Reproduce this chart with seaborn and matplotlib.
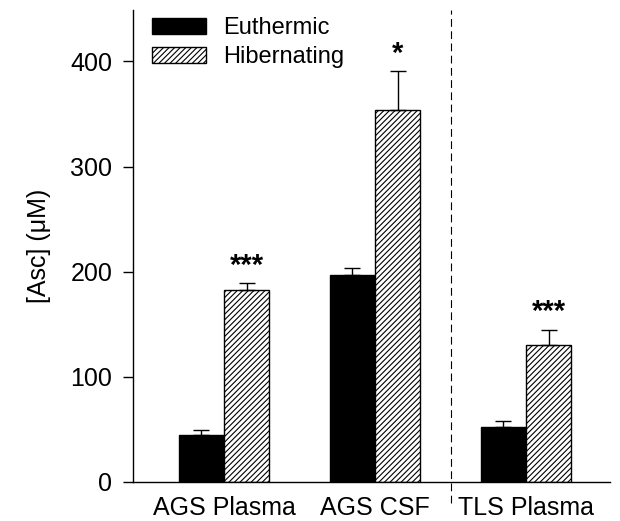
import matplotlib
matplotlib.use("Agg")
import matplotlib.pyplot as plt
import seaborn as sns
import pandas as pd
import numpy as np

categories = ["AGS Plasma", "AGS CSF", "TLS Plasma"]
groups = ["Euthermic", "Hibernating"]
euthermic = [45, 197, 52]
hibernating = [183, 354, 130]
euthermic_err = [4, 7, 6]
hibernating_err = [6, 37, 15]
hib_marks = ["***", "*", "***"]
yticks = [0, 100, 200, 300, 400]

sns.set_theme(style="white")
plt.rcParams["font.family"] = ["Liberation Sans", "DejaVu Sans"]
plt.rcParams["hatch.linewidth"] = 0.8
plt.rcParams["text.color"] = "black"
plt.rcParams["axes.labelcolor"] = "black"
plt.rcParams["xtick.color"] = "black"
plt.rcParams["ytick.color"] = "black"

df = pd.DataFrame({
    "cat": categories * 2,
    "group": [groups[0]] * 3 + [groups[1]] * 3,
    "val": euthermic + hibernating,
})

fig = plt.figure(figsize=(6.2, 5.21), dpi=100)
ax = fig.add_axes([0.2145, 0.0749, 0.7695, 0.906])
sns.barplot(data=df, x="cat", y="val", hue="group", order=categories,
            hue_order=groups, palette=["black", "white"], width=0.6,
            errorbar=None, ax=ax, edgecolor="black", linewidth=1.0,
            saturation=1)

errs = [euthermic_err, hibernating_err]
vals = [euthermic, hibernating]
bar_conts = list(ax.containers)
for ci, cont in enumerate(bar_conts):
    xs = [p.get_x() + p.get_width() / 2 for p in cont.patches]
    if ci == 1:
        for p in cont.patches:
            p.set_hatch("//////")
            p.set_facecolor("white")
    ax.errorbar(xs, vals[ci], yerr=[np.zeros(3), errs[ci]], fmt="none",
                ecolor="black", elinewidth=1.0, capsize=6, capthick=1.0,
                zorder=1)
    if ci == 1:
        for x, v, e, m in zip(xs, vals[ci], errs[ci], hib_marks):
            ax.text(x, v + e + 3, m, ha="center", va="bottom", fontsize=21,
                    fontweight="bold", color="black")

ax.set_ylim(0, 449)
ax.set_xlim(-0.603, 2.556)
ax.set_yticks(yticks)
ax.set_yticklabels([str(t) for t in yticks], fontsize=18)
ax.tick_params(axis="y", left=True, length=7, width=1, pad=8, colors="black")
ax.tick_params(axis="x", bottom=False, length=0, pad=10, labelsize=18)
ax.set_xlabel("")
ax.set_ylabel("[Asc] (\u03bcM)", fontsize=18, labelpad=14)
for s in ["top", "right"]:
    ax.spines[s].set_visible(False)
for s in ["left", "bottom"]:
    ax.spines[s].set_color("black")
    ax.spines[s].set_linewidth(1.0)

trans = ax.get_xaxis_transform()
ax.plot([1.5, 1.5], [-0.045, 1.0], transform=trans, color="black",
        linestyle=(0, (7, 4)), linewidth=0.8, clip_on=False)

leg = ax.legend(loc="upper left", bbox_to_anchor=(0.02, 1.005), frameon=False,
                fontsize=17, handlelength=2.3, handleheight=0.65,
                handletextpad=0.7, labelspacing=0.3, borderaxespad=0)
for t in leg.get_texts():
    t.set_color("black")
handles = leg.legend_handles
handles[0].set_facecolor("black")
handles[1].set_facecolor("white")
handles[1].set_hatch("//////")
for h in handles:
    h.set_edgecolor("black")

fig.savefig("out.png", dpi=100)
